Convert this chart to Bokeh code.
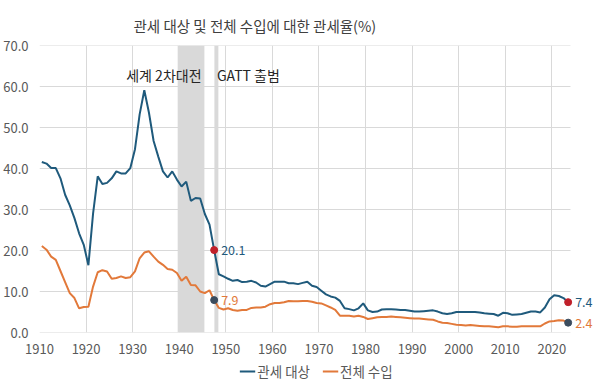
from bokeh.plotting import figure
from bokeh.layouts import column
from bokeh.models import (Range1d, FixedTicker, Legend, LegendItem, Title,
                          ColumnDataSource, NumeralTickFormatter)
from bokeh.core.properties import value
from bokeh.embed import file_html
from bokeh.resources import INLINE

FONT = "Noto Sans CJK KR"

# ---------------- data ----------------
years = list(range(1910, 2024))

dutiable = [  # 관세 대상 (tariff on dutiable imports, %)
    41.6, 41.2, 40.1, 40.1, 37.6, 33.6, 31.0, 27.9, 24.2, 21.4,   # 1910s
    16.4, 29.0, 38.1, 36.2, 36.5, 37.6, 39.3, 38.8, 38.8, 40.1,   # 1920s
    44.7, 53.2, 59.1, 53.6, 46.7, 42.9, 39.3, 37.8, 39.3, 37.3,   # 1930s
    35.6, 36.8, 32.1, 32.8, 32.7, 28.9, 26.3, 20.1, 14.2, 13.7,   # 1940s
    13.1, 12.6, 12.8, 12.3, 12.4, 12.6, 12.2, 11.4, 11.2, 11.8,   # 1950s
    12.4, 12.4, 12.4, 12.0, 12.0, 11.8, 12.1, 12.4, 11.4, 11.1,   # 1960s
    10.2, 9.3, 8.8, 8.5, 7.7, 5.9, 5.7, 5.4, 5.9, 7.1,            # 1970s
    5.4, 5.0, 5.1, 5.6, 5.7, 5.7, 5.6, 5.5, 5.5, 5.3,             # 1980s
    5.1, 5.1, 5.2, 5.3, 5.4, 5.1, 4.7, 4.5, 4.7, 5.0,             # 1990s
    5.0, 5.0, 5.0, 5.0, 4.9, 4.7, 4.6, 4.5, 4.1, 4.8,             # 2000s
    4.7, 4.3, 4.4, 4.5, 4.8, 5.1, 5.1, 4.9, 6.1, 8.1,             # 2010s
    9.1, 8.9, 8.4, 7.4,                                           # 2020s
]

total = [  # 전체 수입 (tariff on total imports, %)
    21.1, 20.2, 18.5, 17.7, 15.0, 12.3, 9.6, 8.4, 5.9, 6.2,       # 1910s
    6.3, 11.2, 14.7, 15.2, 14.9, 13.1, 13.3, 13.7, 13.3, 13.5,    # 1920s
    14.9, 18.1, 19.5, 19.8, 18.5, 17.3, 16.5, 15.5, 15.3, 14.5,   # 1930s
    12.6, 13.6, 11.6, 11.5, 10.0, 9.6, 10.3, 7.9, 6.0, 5.6,       # 1940s
    5.9, 5.5, 5.3, 5.5, 5.5, 6.0, 6.1, 6.1, 6.3, 6.9,             # 1950s
    7.2, 7.2, 7.4, 7.7, 7.6, 7.6, 7.7, 7.7, 7.5, 7.2,             # 1960s
    7.1, 6.6, 6.1, 5.5, 4.1, 4.1, 4.1, 3.9, 4.1, 3.8,             # 1970s
    3.3, 3.5, 3.7, 3.8, 3.8, 3.9, 3.8, 3.7, 3.6, 3.5,             # 1980s
    3.4, 3.4, 3.3, 3.2, 3.1, 2.7, 2.4, 2.3, 2.1, 1.9,             # 1990s
    1.8, 1.7, 1.8, 1.7, 1.6, 1.5, 1.5, 1.4, 1.3, 1.5,             # 2000s
    1.5, 1.4, 1.4, 1.5, 1.5, 1.5, 1.5, 1.5, 2.2, 2.7,             # 2010s
    2.8, 3.0, 2.9, 2.4,                                           # 2020s
]
assert len(years) == len(dutiable) == len(total)

series_names = ["관세 대상", "전체 수입"]
x_tick_years = [1910, 1920, 1930, 1940, 1950, 1960, 1970, 1980, 1990, 2000, 2010, 2020]
y_ticks = [0, 10, 20, 30, 40, 50, 60, 70]

# shaded periods (axis years) and their captions
band_labels = ["세계 2차대전", "GATT 출범"]
band_start = [1939.67, 1947.55]
band_end = [1945.4, 1948.4]

# highlighted points
hl_years = [1947, 1947, 2023, 2023]
hl_values = [20.1, 7.9, 7.4, 2.4]

title_text = "관세 대상 및 전체 수입에 대한 관세율(%)"

BLUE = "#1f5a7c"
ORANGE = "#e2793a"
RED = "#c0202a"
DARK = "#3b4c5e"
GRID = "#d9d9d9"
TXT = "#595959"

# each annual value sits in the middle of its year
xpos = [y + 0.5 for y in years]
hl_x = [y + 0.5 for y in hl_years]

X_START, AXIS_END = 1910, 2024      # chart area (grid extent)
X_VIEW_END = 2028.94                # extra room on the right for end labels

W = 593
MAIN_H = 359
LEG_H = 24

p = figure(width=W, height=MAIN_H, output_backend="svg", toolbar_location=None,
           x_range=Range1d(X_START, X_VIEW_END), y_range=Range1d(0, 70),
           min_border_left=39, min_border_right=0, min_border_top=45,
           min_border_bottom=27)
p.outline_line_color = None
p.background_fill_color = "white"
p.border_fill_color = "white"

# horizontal grid lines limited to the chart area
p.segment(x0=[X_START] * len(y_ticks), x1=[AXIS_END] * len(y_ticks),
          y0=y_ticks, y1=y_ticks, line_color=GRID, line_width=1)

# bands
p.quad(left=band_start, right=band_end, bottom=0, top=70,
       fill_color="#d9d9d9", line_color=None)

p.line(xpos, dutiable, line_color=BLUE, line_width=2)
p.line(xpos, total, line_color=ORANGE, line_width=2)

dot_colors = [RED, DARK, RED, DARK]
lab_colors = [BLUE, ORANGE, BLUE, ORANGE]
src = ColumnDataSource(dict(x=hl_x, y=hl_values, fc=dot_colors, tc=lab_colors,
                            t=[f"{v:.1f}" for v in hl_values]))
p.scatter("x", "y", source=src, size=7, fill_color="fc", line_color="fc")
p.text("x", "y", text="t", source=src, x_offset=7, text_color="tc",
       text_font=value(FONT), text_font_size="12.5px", text_baseline="middle",
       text_align="left")

# band captions
p.text(x=[1936.7], y=[62.9], text=[band_labels[0]], text_font=value(FONT),
       text_font_size="14px", text_color="#262626", text_align="center",
       text_baseline="middle")
p.text(x=[1948.1], y=[62.9], text=[band_labels[1]], text_font=value(FONT),
       text_font_size="14px", text_color="#262626", text_align="left",
       text_baseline="middle")

# axes
p.xaxis.ticker = FixedTicker(ticks=x_tick_years)
p.yaxis.ticker = FixedTicker(ticks=y_ticks)
p.yaxis.formatter = NumeralTickFormatter(format="0.0")
for ax in (p.xaxis[0], p.yaxis[0]):
    ax.axis_line_color = None
    ax.major_tick_line_color = None
    ax.minor_tick_line_color = None
    ax.major_label_text_font = FONT
    ax.major_label_text_font_size = "13px"
    ax.major_label_text_color = TXT
p.xaxis.major_label_standoff = 5
p.yaxis.major_label_standoff = 5

p.xgrid.grid_line_color = GRID
p.xgrid.grid_line_width = 1
p.ygrid.grid_line_color = None

# title
t = Title(text=title_text, align="left", offset=94, text_font=FONT,
          text_font_size="14.5px", text_font_style="normal", text_color="#404040",
          standoff=20)
p.add_layout(t, "above")

# legend strip (separate small figure below the chart; swatch renderers out of view)
lg = figure(width=W, height=LEG_H, output_backend="svg", toolbar_location=None,
            x_axis_type=None, y_axis_type=None, min_border=0,
            x_range=Range1d(10, 11), y_range=Range1d(10, 11))
lg.outline_line_color = None
lg.grid.visible = False
r1 = lg.line(x=[0, 1], y=[0, 0], line_color=BLUE, line_width=2)
r2 = lg.line(x=[0, 1], y=[0, 0], line_color=ORANGE, line_width=2)
legend = Legend(items=[LegendItem(label=series_names[0], renderers=[r1]),
                       LegendItem(label=series_names[1], renderers=[r2])],
                orientation="horizontal", location="center",
                label_text_font=FONT, label_text_font_size="13.5px",
                label_text_color=TXT, glyph_width=16, glyph_height=14,
                label_standoff=2, spacing=12, padding=0, margin=0,
                border_line_color=None, background_fill_alpha=0)
lg.add_layout(legend, "center")

layout = column(p, lg, spacing=0)
open("out.html", "w").write(file_html(layout, INLINE))
